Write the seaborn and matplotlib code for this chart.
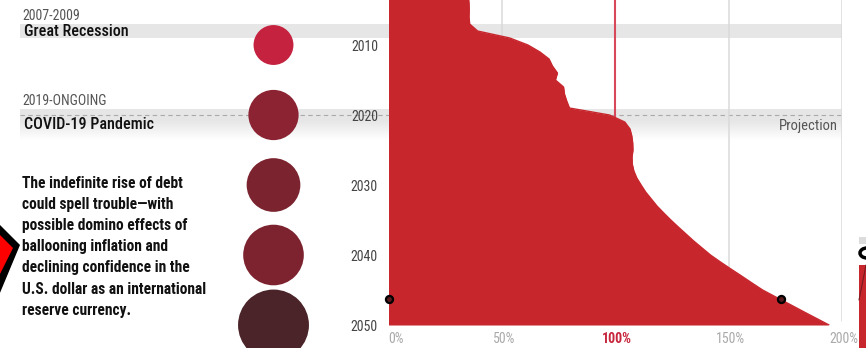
import numpy as np
import pandas as pd
import matplotlib
matplotlib.use("Agg")
import matplotlib.pyplot as plt
import matplotlib.transforms as mtransforms
from matplotlib.patches import Polygon, Rectangle, Arc
import seaborn as sns

# ---------------- data ----------------
years = list(range(2003, 2051))
debt_pct = [35.2, 35.5, 35.6, 35.5, 35.8, 39.3, 53.5, 61.5, 66.8, 70.8,
            72.3, 74.5, 73.6, 77.2, 77.6, 78.6, 79.8, 97.5, 104.2, 106.5,
            107.3, 107.7, 107.8, 107.4, 107.5, 108.2, 109.5, 111.4, 113.4, 115.9,
            118.4, 121.4, 124.5, 127.8, 131.2, 134.6, 138.3, 142.0, 146.4, 151.0,
            155.7, 160.3, 165.0, 170.8, 176.7, 182.5, 188.4, 194.3]

circle_years = [2010, 2020, 2030, 2040, 2050]
circle_values = [61.5, 97.5, 111.4, 142.0, 194.3]
circle_colors = ["#C4223F", "#8B2332", "#7B2430", "#7D2330", "#4A2429"]

dot_year = 2046.3
dot_values = [0, 173]

recession_years = (2007, 2009)
recession_label = ("2007-2009", "Great Recession")
covid_start = 2019.2
covid_label = ("2019-ONGOING", "COVID-19 Pandemic")
projection_year = 2020

ytick_years = [2010, 2020, 2030, 2040, 2050]
xticks = [0, 50, 100, 150, 200]
xtick_labels = ["0%", "50%", "100%", "150%", "200%"]

paragraph = ["The indefinite rise of debt",
             "could spell trouble\u2014with",
             "possible domino effects of",
             "ballooning inflation and",
             "declining confidence in the",
             "U.S. dollar as an international",
             "reserve currency."]

# ---------------- style ----------------
sns.set_theme(style="white")
COND = ["Roboto Condensed", "DejaVu Sans"]
plt.rcParams["font.family"] = COND

AREA = "#C8262D"
W, H = 866, 348
fig = plt.figure(figsize=(W / 100, H / 100), dpi=100)
fig.patch.set_facecolor("white")

# geometry (pixels)
X0, X200 = 388.5, 842.0
Y_TOP_YEAR = 2003.57
PX_PER_YEAR = 7.0
Y_BOTTOM_PX = (2050 - Y_TOP_YEAR) * PX_PER_YEAR


def fx(x):
    return x / W


def fy(y):
    return 1 - y / H


def yr(py):
    return Y_TOP_YEAR + py / PX_PER_YEAR


# background axes: x in pixels, y in years
bg = fig.add_axes([0, 0, 1, 1])
bg.axis("off")
bg.set_zorder(0)

# recession band
bg.add_patch(Rectangle((20, recession_years[0]), 822, recession_years[1] - recession_years[0],
                       facecolor="#E6E6E6", edgecolor="none", zorder=1))
# covid band (fading)
n = 60
alpha = np.concatenate([np.ones(22), np.linspace(1, 0, n - 22)])
grad = np.zeros((n, 1, 4))
grad[:, 0, :3] = 0.905
grad[:, 0, 3] = alpha
bg.imshow(grad, extent=(20, 842, covid_start + 4.4, covid_start), origin="upper",
          aspect="auto", zorder=1, interpolation="bilinear")
# projection dashed line
bg.plot([20, 842], [projection_year, projection_year], color="#AAAAAA", lw=0.8,
        ls=(0, (4, 3)), zorder=2)

# circles
cdf = pd.DataFrame({"year": circle_years, "val": circle_values,
                    "lab": [str(y) for y in circle_years]})
k = 6.47  # px^2 per percent
sizes = [(2 * np.sqrt(k * v) * 0.72) ** 2 for v in circle_values]
cdf["x"] = 273.5
sns.scatterplot(data=cdf, x="x", y="year", hue="lab",
                palette=dict(zip(cdf["lab"], circle_colors)),
                s=sizes, linewidth=0, legend=False, ax=bg, zorder=5, clip_on=False)

# left artifact (neighbouring graphic, cropped)
bg.add_patch(Polygon([(-3, yr(222)), (20, yr(245)), (-3, yr(300))],
                     closed=True, facecolor="black", edgecolor="none", zorder=3, clip_on=False))
bg.add_patch(Polygon([(-3, yr(232)), (13, yr(248)), (-3, yr(280))],
                     closed=True, facecolor="#FF0000", edgecolor="none", zorder=4, clip_on=False))
# right artifact (neighbouring graphic, cropped)
bg.add_patch(Rectangle((859, yr(265)), 10, 85 / PX_PER_YEAR, facecolor=AREA,
                       edgecolor="none", zorder=3, clip_on=False))
bg.plot([859, 866], [yr(300), yr(265)], color="#7A1A20", lw=0.8, zorder=4, clip_on=False)
bg.add_patch(Rectangle((859, yr(237)), 10, 7 / PX_PER_YEAR, facecolor="#DCDCDC",
                       edgecolor="none", zorder=3, clip_on=False))
bg.add_patch(Arc((867, yr(253)), width=14, height=10 / PX_PER_YEAR, theta1=90, theta2=270,
                 color="black", lw=2.5, zorder=4, clip_on=False))

bg.set_xlim(0, W)
bg.set_ylim(yr(H), Y_TOP_YEAR)
bg.set_xlabel("")
bg.set_ylabel("")

# ---------------- main data axes ----------------
ax = fig.add_axes([fx(X0), fy(Y_BOTTOM_PX), fx(X200 - X0), Y_BOTTOM_PX / H])
ax.set_zorder(1)
ax.patch.set_alpha(0)
for g in [50, 150, 200]:
    ax.axvline(g, color="#DADADA", lw=1.1, zorder=1, ymin=0.012)
ax.axvline(100, color="#D9485A", lw=1.5, zorder=1)

df = pd.DataFrame({"year": years, "debt": debt_pct})
ax.fill_betweenx(df["year"], 0, df["debt"], color=AREA, lw=0, zorder=2)
sns.lineplot(data=df, x="debt", y="year", orient="y", color=AREA, lw=1,
             ax=ax, zorder=3, sort=False)

ddf = pd.DataFrame({"x": dot_values, "y": [dot_year] * len(dot_values)})
sns.scatterplot(data=ddf, x="x", y="y", s=26, color="#5A1A1E", edgecolor="black",
                linewidth=1.6, ax=ax, zorder=4, clip_on=False, legend=False)

ax.set_xlim(0, 200)
ax.set_ylim(2050, Y_TOP_YEAR)
for s in ax.spines.values():
    s.set_visible(False)
ax.set_xlabel("")
ax.set_ylabel("")
ax.set_yticks(ytick_years)
ax.set_yticklabels([str(y) for y in ytick_years], fontsize=10, color="#444444")
ax.set_xticks(xticks)
ax.set_xticklabels(xtick_labels, fontsize=10, color="#AAAAAA")
ax.tick_params(axis="y", length=0, pad=7.6)
ax.tick_params(axis="x", length=0, pad=5.0)
for i, lab in enumerate(ax.get_xticklabels()):
    if i == 0:
        lab.set_ha("left")
    else:
        lab.set_transform(lab.get_transform() +
                          mtransforms.ScaledTranslation(2 / 100, 0, fig.dpi_scale_trans))
    if xtick_labels[i] == "100%":
        lab.set_color("#C8263D")
        lab.set_fontweight("bold")

# ---------------- texts ----------------
fig.text(fx(22), fy(15.5), recession_label[0], fontsize=10, color="#555555", va="center")
fig.text(fx(24), fy(31), recession_label[1], fontsize=11.6, color="#111111", va="center",
         fontweight="medium")
fig.text(fx(22), fy(101), covid_label[0], fontsize=10, color="#555555", va="center")
fig.text(fx(24), fy(124.5), covid_label[1], fontsize=11.6, color="#111111", va="center",
         fontweight="medium")
fig.text(fx(838), fy(126), "Projection", fontsize=10.5, color="#555555", va="center", ha="right")

for i, line in enumerate(paragraph):
    fig.text(fx(22.5), fy(183.5 + 21.1 * i), line, fontsize=11.2, fontweight="bold",
             color="#111111", va="center")

fig.savefig("out.png", dpi=100, facecolor="white")
